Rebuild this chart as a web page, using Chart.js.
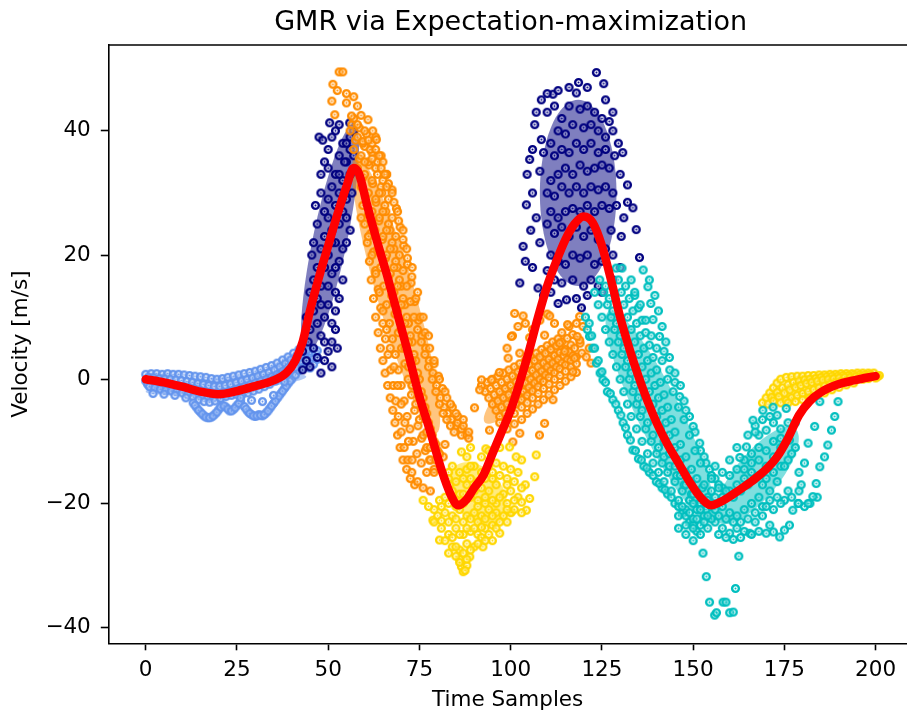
<!DOCTYPE html>
<html>
<head>
<meta charset="utf-8">
<script src="https://cdn.jsdelivr.net/npm/chart.js@4.4.1/dist/chart.umd.min.js"></script>
<style>
  html, body { margin: 0; padding: 0; background: #fff; }
  canvas { display: block; }
</style>
</head>
<body>
<canvas id="gmrChart" width="907" height="715"></canvas>
<script>
// tick values
const xTicks = [0, 25, 50, 75, 100, 125, 150, 175, 200];
const yTicks = [-40, -20, 0, 20, 40];

// GMR regression curve
const gmrX = [0, 5, 10, 15, 20, 25, 30, 35, 38.5, 41, 43, 45, 47.5, 50, 52.5, 55, 57, 58.5, 60.5, 63, 66, 69, 72, 75, 78, 81, 83.5, 85.6, 88, 90, 92.5, 95, 97.5, 100, 102.5, 105, 107.5, 110, 112.5, 115, 117.5, 120, 122.5, 125, 127.5, 130, 132.5, 135, 137.5, 140, 143, 146, 149, 152, 155, 158, 161, 164, 167, 170, 173, 176, 179, 182, 185, 188, 191, 194, 197, 200];
const gmrY = [0, -0.5, -1.2, -2.0, -2.4, -1.9, -1.1, -0.2, 1.0, 3.0, 6.0, 11, 16.5, 21.5, 26.5, 31, 34, 33, 28.4, 23, 17, 10.5, 4, -2.8, -8.5, -14.5, -18.5, -20.3, -19.3, -17.5, -15.5, -12, -8.5, -5, -0.5, 4.5, 10, 15, 19, 22.5, 25, 26.2, 25.2, 21.5, 16, 10, 5, 0.5, -3.5, -7, -10.5, -13.5, -16.5, -19, -20.3, -19.6, -18.5, -17.3, -16, -14.5, -12.5, -9.5, -5.8, -3.5, -2.1, -1.2, -0.6, -0.2, 0.2, 0.5];

// samples, grouped by the mixture component they were assigned to
const cornflowerPts = [
  [0,0.8],[1.5,0.9],[3,0.9],[4.5,0.8],[6,0.9],[7.5,0.8],[9,0.8],[10.5,0.7],[12,0.6],[13.5,0.5],[15,0.4],[16.5,0.3],[18,0.1],[19.5,0],[21,0.1],[22.5,0.3],[24,0.5],[25.5,0.7],[27,0.9],[28.5,1.1],[30,1.3],[31.5,1.6],[33,1.9],[34.5,2.2],[36,2.6],[37.5,3.1],[39,3.6],[40.5,4.2],[42,4.8],[43.5,5.3],
  [0.75,0.3],[2.25,0.2],[3.75,0.1],[5.25,0.05],[6.75,0],[8.25,-0.1],[9.75,-0.2],[11.25,-0.35],[12.75,-0.5],[14.25,-0.7],[15.75,-0.85],[17.25,-1.0],[18.75,-1.15],[20.25,-1.15],[21.75,-1.0],[23.25,-0.8],[24.75,-0.55],[26.25,-0.3],[27.75,-0.05],[29.25,0.2],[30.75,0.5],[32.25,0.8],[33.75,1.1],[35.25,1.5],[36.75,2.0],[38.25,2.5],[39.75,3.1],[41.25,3.7],[42.75,4.3],
  [0,-0.3],[1.5,-0.4],[3,-0.5],[4.5,-0.6],[6,-0.7],[7.5,-0.9],[9,-1.0],[10.5,-1.2],[12,-1.4],[13.5,-1.6],[15,-1.9],[16.5,-2.1],[18,-2.3],[19.5,-2.4],[21,-2.3],[22.5,-2.1],[24,-1.8],[25.5,-1.5],[27,-1.2],[28.5,-0.9],[30,-0.6],[31.5,-0.3],[33,0],[34.5,0.4],[36,0.8],[37.5,1.3],[39,1.9],[40.5,2.6],[42,3.4],[43.5,4.0],[45,4.5],
  [0.5,-0.8],[2,-1.0],[3.5,-1.1],[5,-1.25],[6.5,-1.35],[8,-1.5],[9.5,-1.6],[11,-1.85],[12.5,-2.1],[14,-2.5],[15.5,-2.7],[17,-2.95],[18.5,-3.0],[20,-2.8],[21.5,-2.55],[23,-2.3],[24.5,-2.1],[26,-1.9],[27.5,-1.7],[29,-1.4],[30.5,-1.1],[32,-0.8],[33.5,-0.4],[35,0],[36.5,0.5],[38,1.0],[39.5,1.6],[41,2.2],[42.5,2.8],[44,3.3],
  [1,-1.2],[2.5,-1.4],[4,-1.6],[5.5,-1.8],[7,-1.9],[8.5,-2.0],[10,-2.2],[11.5,-2.5],[13,-2.9],[14.5,-3.3],[16,-3.6],[17.5,-3.7],[19,-3.5],[20.5,-3.1],[22,-2.8],[23.5,-2.6],[25,-2.5],[26.5,-2.4],[28,-2.2],[29.5,-1.9],[31,-1.6],[32.5,-1.2],[34,-0.8],[35.5,-0.3],[37,0.2],[38.5,0.8],[40,1.4],[41.5,2.0],[43,2.6],[44.5,3.0],[46,3.3],
  [13,-3.8],[14,-4.6],[15,-5.3],[16,-5.9],[17,-6.2],[18,-6.1],[19,-5.6],[20,-4.9],[21,-4.2],[22,-4.5],[23,-5.1],[24,-4.9],[25,-4.2],[26,-3.6],
  [13.5,-4.2],[14.5,-5.0],[15.5,-5.6],[16.5,-6.1],[17.5,-6.2],[18.5,-5.9],[19.5,-5.3],[20.5,-4.5],[21.5,-4.3],[22.5,-4.8],[23.5,-5.1],[24.5,-4.6],[25.5,-3.9],
  [27,-4.4],[28,-5.2],[29,-5.7],[30,-6.0],[31,-5.7],[32,-5.9],[33,-5.4],[34,-4.7],[35,-3.9],[36,-3.1],[37,-2.3],[38,-1.5],[39,-0.7],[40,0],[41,0.7],[42,1.4],[43,1.9],[44,2.3],[45,1.8],[46,2.4],[47,3.2],[46.5,4.2],[45.5,5],
  [27.5,-4.8],[28.5,-5.5],[29.5,-5.9],[30.5,-5.9],[31.5,-5.8],[32.5,-5.7],[33.5,-5.1],[34.5,-4.3],[35.5,-3.5],[36.5,-2.7],[37.5,-1.9],[38.5,-1.1],[39.5,-0.3],
  [2,-2.3],[5,-2.4],[8,-2.6],[11,-3.0],[26,-3.0],[29,-3.4],[32,-3.6],[35,-2.6],[38,-0.4],[41,1.9],[44,4.6],[47,4.6]
];

const navyPts = [
  [43,1.5],[44,3],[45,2],[46,5],[47,3.5],[48,1],[49,6],[50,4.5],[44.5,6],[45,8],[47,9],[48,7],[49,10],[50,12],[46,11],[47,13],[48,15],[50,15],[51,9],[52,11],[46,16],[47,18],[49,18],[50,20],[51,17],[52,14],[53,19],[48,21],[49,23],[51,24],[52,22],[53,25],[54,21],[47,25],[49,27],[50,29],[52,28],[53,30],[54,27],[55,29],[51,31],[52,33],[54,32],[55,35],[56,33],[50,34],[53,36],[54,38],[55,38],[56,37],[57,40],[52,40],[53,41],[51,39],[49,35],[48,30],[46,22],[45,14],[56,39],[57,36],[55,26],[56,24],[54,16],[53,13],[51,6],[52,8],[47.5,39],[48.5,38.5],[50.4,41.3],[55.9,41.3],[48,33],[50,37],[46.5,28],[45.5,20],[44,10],[43,4.5],[50,26],[51,22],[53,33],[54.5,35],[56.5,30],[55,22],[52,18],[48,12],[49,3],[51,2],[52.5,5],
  [123.5,49.4],[125.5,47.6],[118.6,47.8],[118,46.1],[111.6,45.9],[108.4,45],[106.6,41],[108.4,38.6],[105.2,35.4],[108,33.5],[104.3,28.1],[103.4,21.4],[102.5,15.5],[107.5,14.7],[115.3,12.8],[119.4,11.5],[130.7,36.5],[132,31.3],[133.5,27.6],[134.4,24.1],[135.3,19.6],[130.3,23],[127.5,24],
  [110,43],[112,44],[114,42],[116,44],[119,43.5],[121,44],[123,43],[125,42],[127,41.5],[128,40],[126,39],[124,40],[122,41],[120,40.5],[117,41],[115,39.5],[113,40],[111,38],[109,36.5],[112,36],[114,37],[116,36.5],[118,38],[120,37],[122,38],[124,36.5],[126,37],[128.5,36],[127,34],[125,34.5],[123,34],[121,33.5],[119,34.5],[117,33],[115,34],[113,33],[111,32],[110,30],[112,29.5],[114,31],[116,30],[118,31],[120,30],[122,31],[124,30.5],[126,31],[128,30],[129,28],[127,27.5],[125,28],[123,27],[121,28],[119,27],[117,27.5],[115,27],[113,26],[111,27],[110,25],[112,23.5],[114,24.5],[116,23],[118,24.5],[120,23],[122,24],[124,22.5],[126,21],[128,20],[125,19],[123,18.5],[121,20],[119,19.5],[117,20],[115,18.5],[113,19],[111,20],[110,17.5],[112,16],[114,15.5],[117,16],[120,15],[122,16],[124,15],[108,22],[107,26],[106,30],[105.5,24],[104,19],[106,18],[109,13.5],[111,14],[113,12.2],[118,13],[121,13.5],[125,14],[128,16],[130,18],[131,26],[132,28.5],[130,33],[129.5,38],[128,43],[126,45],[121,47],[116,47],[113,46.5],[110,46],[107,43],[106,37],[104.5,33]
];

const orangePts = [
  [56,40],[57,37],[58,34],[59,31],[59.5,28],[60,25],[60.7,22],[61.3,19],[61.8,16],[62.4,13],[63,10],[63.7,7.5],[64.3,5],[65,3],[65.6,1],[66.3,-1],[67,-3],[67.7,-5],[68.3,-7],[69,-9],[69.7,-11],[70.5,-13],[71.5,-14.5],[72.5,-16],[73.7,-17],
  [56.5,41],[57.5,38.5],[58.5,35.5],[59.5,32.5],[60.3,29.5],[61,26.5],[61.7,23.5],[62.4,20.5],[63,17.5],[63.7,14.5],[64.4,11.5],[65,9],[65.7,6.5],[66.4,4],[67.1,1.5],[67.8,-1],[68.5,-3.5],[69.2,-6],[70,-8.5],[70.8,-11],[71.8,-13],[72.9,-15],[74.5,-16.5],[76,-17.5],
  [57,42],[58,39],[59,36],[60,33],[61,30],[62,27],[62.8,24],[63.6,21],[64.4,18],[65.2,15],[66,12],[66.8,9],[67.6,6.5],[68.4,4],[69.2,1.5],[70,-1],[70.8,-3.5],[71.6,-6],[72.4,-8],[73.3,-10],[74.3,-12],[75.5,-13.5],[77,-15],[78,-18],
  [58.5,40.5],[60,37.5],[61.2,34.5],[62.2,31.5],[63.1,28.5],[63.9,25.5],[64.8,22.5],[65.7,19.5],[66.5,16.5],[67.4,13.5],[68.3,10.5],[69.2,7.5],[70.1,5],[71,2.5],[71.9,0],[72.8,-2.5],[73.7,-5],[74.6,-7.5],[75.6,-9.5],[76.6,-11.5],[77.8,-13],[79,-14.5],
  [58,41],[59.5,38],[61,35],[62,32],[63,29],[64,26],[65,23],[66,20],[67,17],[68,14],[69,11],[70,8],[71,5],[72,2],[73,-1],[74,-4],[75,-6.5],[76,-9],[77,-11],[78,-13],[79,-15],
  [59,42.5],[60.5,39.5],[62,36.5],[63.5,33],[64.7,30],[65.8,27],[66.9,24],[68,21],[69,18],[70,15],[71,12],[72,9],[73,6],[74,3],[75,0],[76,-3],[77,-5.5],[78,-8],[79,-10],[80,-11.5],[81.5,-12.5],
  [60,40],[61.5,37],[63,34],[64.5,31],[65.5,28],[66.5,25],[67.5,22],[68.5,19],[69.5,16],[70.5,13],[71.5,10],[72.5,7],[73.5,4],[74.5,1],[75.5,-2],[76.5,-4.5],[77.5,-7],[78.5,-9],[79.5,-10.5],[80.5,-12],[82,-10.5],
  [63,39],[64.5,36],[66,33],[67.5,30.5],[68.7,27.5],[69.7,24.5],[70.7,21.5],[71.7,18.5],[72.7,15.5],[73.7,12.5],[74.7,9.5],[75.7,7],[76.7,5],[77.7,3],[78.7,1],[79.7,-1],[80.7,-3],[81.7,-4.5],[82.7,-5.5],[83.7,-6.5],[85,-7.5],[86.5,-9],
  [62,38],[63.5,35],[65,32],[66.5,29],[67.5,26],[68.5,23],[69.5,20],[70.5,17.5],[71.5,15],[72.5,12.5],[73.5,10],[74.5,8],[75.5,6],[76.5,4],[77.5,2],[78.5,0],[79.5,-2],[80.5,-4],[81.5,-5.5],[82.5,-6.5],[83.5,-7.5],[84.5,-8.5],[85.5,-7],[86.5,-8],[88,-9],
  [65,35],[66.5,31.5],[68,28.5],[69.3,25.5],[70.5,22.5],[71.7,19.5],[72.9,16.5],[74,13],[75.2,10],[76.5,7.5],[77.8,5],[79,2.5],[80.2,0.5],[81.3,-1.5],[82.5,-3],[84,-4.5],[85.5,-6],[87,-7.5],[88.5,-9.5],
  [64,36],[66,33],[67.5,30],[69,27],[70.5,24],[71.5,21],[73,18],[74.5,14],[76,10],[77.5,7],[79,3],[80.5,0],[82,-2],[83.5,-4],[85,-5.5],[87,-6.5],[88.5,-8.5],
  [53,49.5],[54,49.5],[51.3,47.5],[52.5,46.5],[55,46],[51,44.8],[55,44.5],[51.8,42.6],[56.4,42.4],[60.9,41.8],[62.2,40],[59.5,38.3],[63.2,38.6],[58,44],[57,45.5],[60,35],[61,38.5],[62,35.5],[63,37],[64.5,34],[65.5,33],[66,31],
  [59,26],[61,23],[62,20],[63,17],[64,14],[65,11],[66,8],[67,5],[68,2],[69,-1],[70,-4],[71,-7],[72,-10],[73,-13],[64,30],[65,27],[66,24],[67,21],[68,18],[69,15],[70,12],[71,9],[72,6],[73,3],[74,0],[75,-3],[76,-6],[77,-8.5],[78,-11],[79.5,-13],
  [92,-1],[93.5,-0.5],[95,0],[96.5,0.5],[98,1],[99.5,1.5],[101,2],[102.5,2.5],[104,3],[105.5,3.6],[107,4.2],[108.5,4.8],[110,5.4],[111.5,6],[113,6.5],
  [93,-2],[94.5,-1.5],[96,-1],[97.5,-0.5],[99,0],[100.5,0.5],[102,1.2],[103.5,1.8],[105,2.4],[106.5,3],[108,3.6],[109.5,4.2],[111,4.8],[112.5,5.4],[114,6],[115.5,6.6],[117,7.2],
  [94,-3],[95.5,-2.5],[97,-2],[98.5,-1.5],[100,-1],[101.5,-0.4],[103,0.2],[104.5,0.8],[106,1.4],[107.5,2],[109,2.6],[110.5,3.2],[112,3.8],[113.5,4.3],[115,4.8],[116.5,5.5],
  [95,-4],[96.5,-3.5],[98,-3],[99.5,-2.5],[101,-1.8],[102.5,-1.2],[104,-0.6],[105.5,0],[107,0.7],[108.5,1.3],[110,2],[111.5,2.6],[113,3.2],[114.5,3.8],[116,4.4],[117.5,5],[119,5.8],
  [96,-5],[97.5,-4.5],[99,-4],[100.5,-3.3],[102,-2.6],[103.5,-2],[105,-1.3],[106.5,-0.6],[108,0],[109.5,0.7],[111,1.4],[112.5,2],[114,2.6],[115.5,3.2],[117,3.8],
  [97,-6],[98.5,-5.5],[100,-4.8],[101.5,-4],[103,-3.3],[104.5,-2.6],[106,-1.9],[107.5,-1.2],[109,-0.4],[110.5,0.3],[112,1],[113.5,1.7],[115,2.3],[116.5,3],[118,3.6],[119.5,4.2],
  [97,-7],[99,-6.5],[101,-5.5],[103,-4.5],[104.5,-3.8],[106,-3],[107.5,-2.3],[109,-1.5],[110.5,-0.8],[112,0],[113.5,0.6],[115,1.3],[116.5,2],[118,2.5],
  [99,-8],[101,-7.2],[103,-6.5],[104.5,-5.5],[106,-4.8],[107.5,-4],[109,-3.3],[110.5,-2.5],[112,-1.7],[113.5,-1],[115,-0.3],[116.5,0.4],[118,1.1],
  [99,5],[100.5,7],[102,8.5],[104,9],[106,8],[108,9.5],[110,10.5],[112,9],[114,7.5],[116,8.5],[118,9],[101.1,10.6],[103.4,10.2],[110.7,10.2],[100.2,6.9],[105.2,6.7],[109.3,7.1],[113.4,5.8],[114.8,4.5],[102.5,4.2],[99.3,3.4],[92,-0.1],[91.5,-1.7],[90.1,-4.6],[94.7,-0.1],[96.9,1.1],[117,1.2],[117.5,3.4],[118.9,6.3],[119.8,8.5],[118.2,6.9],[120.7,3.6],[111.6,-3.3],[109.3,-7.1],[107.9,-9],[102.5,-8.7],[100.6,-10.1],[94.2,-8.2],[115.6,8.8],[118.9,10.1],[121.5,5],[122,2.6]
];

const goldPts = [
  [86.5,-11.7],[88,-12.5],[92,-12.5],[93.2,-11.2],[99.7,-10.9],[101.5,-12.5],[107,-12.2],[106.6,-15.7],[105.2,-19.2],[104.3,-21.1],[100.2,-21.4],[97,-24.8],[92.4,-27],[88.8,-28.6],[86.5,-30.2],[86,-29],[80.5,-25.9],[78.7,-22.7],[76,-19.5],[80.5,-19.5],[83.3,-17],
  [84,-14],[86,-15],[88,-14.5],[90,-14],[92,-15],[94,-14],[96,-13.5],[98,-14],[100,-14.5],[102,-15],[82,-19],[84,-18],[86,-18.5],[88,-17],[90,-18],[92,-17.5],[94,-18],[96,-17],[98,-18.5],[100,-18],[102,-19],[80,-22],[82,-21.5],[84,-22],[86,-21],[88,-22],[90,-21.5],[92,-22],[94,-21],[96,-21.5],[98,-22],[100,-21.5],[81,-24],[83,-25],[85,-24],[87,-25],[89,-24.5],[91,-25],[93,-24],[95,-23.5],[84,-27],[86,-27.5],[88,-26.5],[90,-27],[92,-25.5],[87,-31],[88,-30],[85,-28.5],[79,-21],[77.5,-20.5],[96,-20],[104,-17],[103,-21.5],[101,-21],[99,-23],[95,-26],[83,-15],[94,-11.5],[97,-11],[89,-11],[91,-19.5],[93,-20],[87,-20],[85,-20.5],[89,-16],[95,-16],[99,-16],[103,-13],
  [83,-16],[85,-16.5],[87,-16],[89,-14],[91,-16.5],[93,-16],[95,-15],[97,-15.5],[99,-17],[101,-16.5],[103,-17.5],[81,-20.5],[83,-20],[85,-19.5],[87,-18.5],[89,-19],[91,-20.5],[93,-19],[95,-19.5],[97,-19],[99,-20],[101,-19.5],[103,-19.8],[79,-23],[81,-22.8],[83,-23],[85,-22.5],[87,-23],[89,-22.5],[91,-23],[93,-22.5],[95,-22],[97,-23],[99,-21],[82,-26],[84,-25.5],[86,-25],[88,-24],[90,-24],[92,-23.8],[94,-25],[96,-24],[83,-28],[85,-27],[87,-28],[89,-27.5],[91,-26.5],[93,-26],[86,-29.5],[88,-29],[87.5,-30.8],
  [169,-3.8],[170,-3],[171,-2.2],[172,-1.4],[173,-0.6],[174,0],[175.5,0.3],[177,0.4],[178.5,0.5],[180,0.5],[181.5,0.6],[183,0.6],[184.5,0.7],[186,0.7],[187.5,0.8],[189,0.8],[190.5,0.9],[192,0.9],[193.5,0.9],[195,1.0],[196.5,1.0],[198,1.0],[199.5,1.0],[201,0.6],
  [171.5,-2.9],[173,-2.1],[174.5,-1.4],[176,-0.9],[177.5,-0.5],[179,-0.3],[180.5,-0.1],[182,0],[183.5,0.1],[185,0.3],[186.5,0.4],[188,0.5],[189.5,0.5],[191,0.6],[192.5,0.6],[194,0.7],[195.5,0.7],[197,0.7],[198.5,0.8],[200.5,0.4],
  [170.5,-4],[172,-3.5],[173.5,-2.8],[175,-2.2],[176.5,-1.7],[178,-1.3],[179.5,-1],[181,-0.7],[182.5,-0.5],[184,-0.3],[185.5,-0.1],[187,0],[188.5,0.1],[190,0.2],[191.5,0.3],[193,0.3],[194.5,0.4],[196,0.4],[197.5,0.4],[199,0.5],
  [174,-3.8],[175.5,-3.4],[177,-3],[178.5,-2.6],[180,-2.3],[181.5,-2],[183,-1.7],[184.5,-1.4],[186,-1.1],[187.5,-0.8],[189,-0.6],[190.5,-0.4],[192,-0.3],[193.5,-0.1],[195,0],[196.5,0],[198,0.1],[200,0.2],
  [176,-3.8],[178,-3.6],[180,-3.3],[182,-3.0],[184,-2.6],[186,-2.2],[188,-1.7],[190,-1.3],[192,-0.9],[194,-0.6]
];

const cyanPts = [
  [120.5,10],[121,8],[121.6,6.9],[122.5,5],[123.5,2.6],[124.5,1],[125.3,-0.1],[126.5,-2],[128,-3.3],[129.5,-5],[130.8,-7],[132,-9],[133.5,-11.4],[135,-12.8],[136.5,-14],[138,-15],[139.9,-16.5],[141.5,-17.5],[143,-18.5],[145,-20],[147,-21.6],[149,-23],[151,-24.5],
  [121.5,9],[122.2,7],[123,5],[124,3],[125,1.2],[126,-0.5],[127.3,-2.3],[128.8,-4],[130.2,-5.8],[131.5,-7.8],[132.8,-9.8],[134.2,-11.5],[135.8,-13],[137.3,-14.3],[139,-15.5],[140.7,-16.8],[142.3,-17.8],[144,-19],[146,-20.5],[148,-22],[150,-23.5],
  [123,14],[124,12],[125,10],[126,8],[127,6],[128,4],[129,2],[130,0],[131,-2],[132,-4],[133,-6],[134.5,-8],[136,-10],[137.5,-12],[139,-13.5],[140.5,-15],[142,-16.5],[144,-18],[146,-19.5],[148,-21],[150,-22.5],[152,-23.5],
  [124.4,16],[125.5,14],[126.5,12],[127.5,10],[128.5,8],[129.5,6],[130.5,4],[131.5,2],[132.5,0],[133.5,-2],[134.5,-4],[135.5,-6],[137,-8],[138.5,-10],[140,-12],[141.5,-13.5],[143,-15],[145,-16.5],[147,-18],[149,-19.5],[151,-21],[153,-22],
  [126,15],[127,13],[128,11],[129,9],[130,7],[131,5],[132,3],[133,1],[134,-1],[135,-3],[136,-5],[137.5,-7],[139,-9],[140.5,-11],[142,-12.5],[143.5,-14],[145.5,-15.5],[147.5,-17],[149.5,-18.5],[151.5,-20],[153.5,-21],
  [128.9,17.9],[129.5,16],[130.3,14],[131,12],[132,10],[133,8],[134,6],[135,4],[136,2],[137,0],[138,-2],[139,-4],[140,-6],[141,-8],[142,-10],[143.5,-12],[145,-14],[146.5,-15.5],[148,-17],[150,-18.5],[152,-20],
  [130.5,17.9],[131.5,15],[132.5,13],[133.5,11],[134.5,9],[135.5,7],[136.5,5],[137.5,3],[138.5,1],[139.5,-1],[140.5,-3],[141.5,-5],[142.5,-7],[143.5,-9],[145,-11],[146.5,-13],[148,-15],[149.5,-16.5],[151,-18],[153,-19.5],[155,-20.5],
  [133,16],[134,13.5],[135,11.5],[136,9.5],[137,7.5],[138,5.5],[139,3.5],[140,1.5],[141,-0.5],[142,-2.5],[143,-4.5],[144,-6.5],[145,-8.5],[146.5,-10.5],[148,-12.5],[149.5,-14.5],[151,-16],[152.5,-17.5],[154,-19],[156,-20],
  [136.3,17.6],[137.6,14.9],[138.4,12.2],[139,9.6],[140.8,6.9],[142,4.5],[143.6,1.5],[145,-0.5],[146.3,-2.8],[148,-5],[150,-7.6],[151.8,-10.3],[153,-12.5],[154.5,-14.5],[156,-16],[158,-17.5],
  [138,16],[139.5,13.5],[140.5,11],[141.5,8.5],[142.5,6],[143.5,3.5],[145,1],[146.5,-1],[147.5,-3.5],[149,-6],[150.5,-8.5],[152,-11.5],[153.5,-13.5],[155,-15.5],[157,-17],
  [134,14],[135.5,12],[137,9.5],[138.5,7],[140,5],[141.5,3],[143,0],[144.5,-2],[146,-4.5],[147.5,-6.5],[149,-9],[150.5,-11.5],[152,-13.5],
  [146,-22],[148,-23.5],[150,-24],[152,-25],[154,-24],[156,-23],[158,-24],[160,-24.8],[162,-24],[164,-24.5],[165.5,-24.8],[167,-23],[169,-22],[171,-23.5],[172,-24.6],[173.7,-25.4],[175,-24.3],[176.4,-23.5],[177.3,-21.1],[178.8,-20],[180.5,-20.5],[182,-20],[184,-19],
  [147,-20.5],[149,-21.5],[151,-22.5],[153,-23],[155,-22.5],[157,-22],[159,-22.5],[161,-23],[163,-23],[165,-22.5],[167,-21.5],[169,-20.5],[171,-19.5],[173,-19],[175,-19.5],[177,-19],[179,-18],
  [150,-20],[152,-21],[154,-22],[156,-21],[158,-20.5],[160,-21.5],[162,-22],[164,-21],[166,-20],[168,-19],[170,-20.5],[172,-21],[174,-20],[176,-18],
  [154,-19.5],[156,-19],[158,-19],[160,-18],[162,-17],[164,-16],[166,-15],[168,-15.5],[170,-16],[172,-15],[174,-14],[176,-13],[178,-11],
  [153,-17],[155,-18],[157,-17.5],[159,-18],[161,-19],[163,-18],[165,-17],[167,-16],[169,-17],[171,-18],[173,-16.5],
  [156,-14],[158,-15],[160,-15.5],[162,-14.5],[164,-13],[166,-12],[168,-13],[170,-14],[172,-12.5],[174,-11],
  [157,-25],[159,-25.5],[161,-25.8],[163,-25.5],[166,-25],[168,-24.5],[170,-24.8],[155,-16],[160,-13],[162,-11],[165,-9],[167,-7.5],[169,-6.5],[171,-6],[173,-5.8],[164,-14.5],[166,-13.5],[168,-11],[170,-11.5],[172,-10],[174,-9.5],[176,-7],[150,-26],[148,-25],[146,-24],
  [162.8,-12.6],[164.6,-10.9],[166.4,-6.6],[169.1,-5],[171.9,-4.5],[175.5,-4.7],[170,-8.2],[176.4,-9.8],[168,-9],[172,-7],[174,-8],[167,-8.5],[178,-7],[177,-12],[175,-14],[179,-15],
  [184.7,-3.6],[183.3,-7.6],[181.5,-10.3],[180.5,-13.5],[179.6,-17],[178.8,-20],
  [189.7,-3.6],[188.8,-6],[187.9,-8.2],[186.9,-10.6],[186,-12.5],[184.7,-14.1],[183.7,-16.8],[182.8,-18.9],[181.5,-20],
  [152.7,-28],[153.6,-31.8],[154.5,-35.9],[155.9,-38],[156.4,-37.6],[158.2,-35.9],[159,-35.9],[160,-37.6],[161,-37.5],[161.6,-33.7],[162.5,-28.5]
];

// mixture components: mean and two half-axis vectors, in data units
const compNames = ['cornflowerblue', 'navy', 'darkorange', 'gold', 'darkorange', 'navy', 'c', 'c', 'gold'];
const compMeans = [[22,-0.8],[50.5,22.5],[68.6,13.6],[91,-18.5],[103.5,-0.6],[118.5,30],[141,-6],[167.5,-15.5],[181,-1.5]];
const compAxisA = [[22,1.2],[6.5,18.5],[11,-22.3],[8,-2.5],[10.5,6.4],[0,15],[14,-17],[10.5,7.5],[10,1.5]];
const compAxisB = [[0,1.2],[4.6,-0.55],[5.0,0.85],[1.2,4.5],[2.8,-1.5],[10.5,0],[5.4,1.55],[4.6,-2.3],[0,1.6]];

const palette = {
  navy: '#000080',
  c: '#00bfbf',
  cornflowerblue: '#6495ed',
  gold: '#ffd700',
  darkorange: '#ff8c00'
};

function hexToRgba(hex, a) {
  const n = parseInt(hex.slice(1), 16);
  return `rgba(${(n >> 16) & 255},${(n >> 8) & 255},${n & 255},${a})`;
}

// ring-with-dot marker, like the one in the picture
function ringMarker(color) {
  const c = document.createElement('canvas');
  c.width = 11;
  c.height = 11;
  const g = c.getContext('2d');
  g.beginPath();
  g.arc(5.5, 5.5, 3.4, 0, Math.PI * 2);
  g.fillStyle = 'rgba(255,255,255,0.4)';
  g.fill();
  g.lineWidth = 2.4;
  g.strokeStyle = color;
  g.stroke();
  g.beginPath();
  g.arc(5.5, 5.5, 1.0, 0, Math.PI * 2);
  g.fillStyle = color;
  g.fill();
  return c;
}

const toXY = pts => pts.map(p => ({ x: p[0], y: p[1] }));

function scatterSet(pts, colorName, order) {
  return {
    type: 'scatter',
    data: toXY(pts),
    pointStyle: ringMarker(palette[colorName]),
    borderColor: palette[colorName],
    backgroundColor: palette[colorName],
    order: order
  };
}

const TITLE = 'GMR via Expectation-maximization';

const gmmPlugin = {
  id: 'gmmEllipses',
  beforeDatasetsDraw(chart) {
    const { ctx, chartArea, scales } = chart;
    const xs = scales.x, ys = scales.y;
    ctx.save();
    ctx.beginPath();
    ctx.rect(chartArea.left, chartArea.top, chartArea.width, chartArea.height);
    ctx.clip();
    compMeans.forEach((m, i) => {
      const a = compAxisA[i], b = compAxisB[i];
      ctx.beginPath();
      for (let k = 0; k <= 90; k++) {
        const t = k / 90 * Math.PI * 2;
        const px = xs.getPixelForValue(m[0] + a[0] * Math.cos(t) + b[0] * Math.sin(t));
        const py = ys.getPixelForValue(m[1] + a[1] * Math.cos(t) + b[1] * Math.sin(t));
        if (k === 0) ctx.moveTo(px, py); else ctx.lineTo(px, py);
      }
      ctx.closePath();
      ctx.fillStyle = hexToRgba(palette[compNames[i]], 0.5);
      ctx.fill();
    });
    ctx.restore();
  },
  afterDraw(chart) {
    const { ctx, chartArea, scales } = chart;
    ctx.save();
    // top spine
    ctx.strokeStyle = '#000';
    ctx.lineWidth = 1.6;
    ctx.beginPath();
    ctx.moveTo(chartArea.left, chartArea.top);
    ctx.lineTo(chartArea.right, chartArea.top);
    ctx.stroke();
    // title, centred over the full axes (which run past the right edge)
    ctx.fillStyle = '#000';
    ctx.font = '27px "DejaVu Sans", sans-serif';
    ctx.textAlign = 'center';
    ctx.textBaseline = 'middle';
    ctx.fillText(TITLE, scales.x.getPixelForValue(100), 22.8);
    ctx.restore();
  }
};

Chart.defaults.font.family = '"DejaVu Sans", sans-serif';
Chart.defaults.color = '#000';

const tickFont = { family: '"DejaVu Sans", sans-serif', size: 21.5 };
const fmt = v => (v < 0 ? '\u2212' + Math.abs(v) : String(v));

new Chart(document.getElementById('gmrChart'), {
  type: 'scatter',
  data: {
    datasets: [
      {
        type: 'line',
        data: gmrX.map((x, i) => ({ x: x, y: gmrY[i] })),
        borderColor: '#ff0000',
        borderWidth: 8.5,
        borderCapStyle: 'round',
        pointRadius: 0,
        fill: false,
        cubicInterpolationMode: 'monotone',
        order: 0
      },
      scatterSet(cyanPts, 'c', 1),
      scatterSet(goldPts, 'gold', 2),
      scatterSet(orangePts, 'darkorange', 3),
      scatterSet(navyPts, 'navy', 4),
      scatterSet(cornflowerPts, 'cornflowerblue', 5)
    ]
  },
  options: {
    responsive: false,
    animation: false,
    events: [],
    layout: { autoPadding: false, padding: { top: 45, left: 0, right: 0, bottom: 0 } },
    plugins: {
      legend: { display: false },
      tooltip: { enabled: false },
      title: { display: false }
    },
    scales: {
      x: {
        type: 'linear',
        min: -10.25,
        max: 208.6,
        afterFit(s) { s.height = 71.7; s.paddingLeft = 0; s.paddingRight = 0; },
        afterBuildTicks(s) { s.ticks = xTicks.map(v => ({ value: v })); },
        ticks: { font: tickFont, color: '#000', padding: 7.4, maxRotation: 0, callback: fmt },
        grid: { drawOnChartArea: false, drawTicks: true, tickLength: 7, tickWidth: 1.6, tickColor: '#000' },
        border: { display: true, color: '#000', width: 1.6 },
        title: { display: true, text: 'Time Samples', color: '#000', font: tickFont, padding: { top: 0, bottom: 1.5 } }
      },
      y: {
        type: 'linear',
        min: -42.53,
        max: 53.83,
        afterFit(s) { s.width = 108.3; s.paddingTop = 0; s.paddingBottom = 0; },
        afterBuildTicks(s) { s.ticks = yTicks.map(v => ({ value: v })); },
        ticks: { font: tickFont, color: '#000', padding: 10, callback: fmt },
        grid: { drawOnChartArea: false, drawTicks: true, tickLength: 7.5, tickWidth: 1.6, tickColor: '#000' },
        border: { display: true, color: '#000', width: 1.6 },
        title: { display: true, text: 'Velocity [m/s]', color: '#000', font: tickFont, padding: { top: 9, bottom: 0 } }
      }
    }
  },
  plugins: [gmmPlugin]
});
</script>
</body>
</html>
